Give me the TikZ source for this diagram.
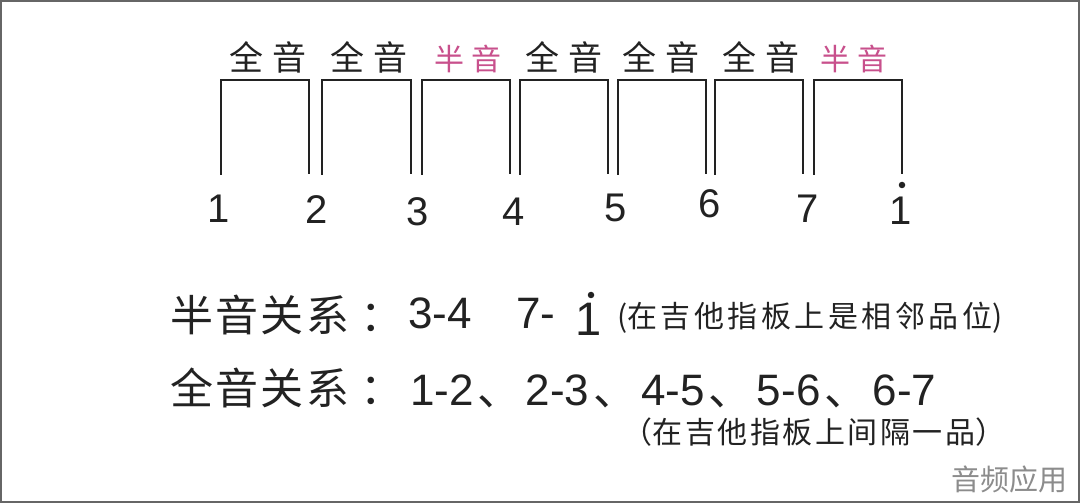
\documentclass[tikz,border=0pt]{standalone}
\usepackage{fontspec}
\setmainfont{Liberation Sans}
\newfontfamily\cjk{Noto Sans CJK SC}
\definecolor{ink}{HTML}{222222}
\definecolor{pinkt}{HTML}{C8508C}
\definecolor{wmgray}{HTML}{8C8C8C}
\newcommand\gapH{\hspace{8.6bp}}
\newcommand\gapP{\hspace{7bp}}
\newcommand\gapB{\hspace{2.3bp}}
\newcommand\gapK{\hspace{11bp}}
\newcommand\gapS{\hspace{3.5bp}}
\newcommand\gapT{\hspace{2.5bp}}
\newcommand\gapC{\hspace{4bp}}
\begin{document}
\begin{tikzpicture}[x=1bp,y=-1bp,
  hdr/.style={font=\cjk\fontsize{34bp}{34bp}\selectfont, text=ink, inner sep=0},
  hdrp/.style={font=\cjk\fontsize{30bp}{30bp}\selectfont, text=pinkt, inner sep=0},
  num/.style={font=\fontsize{40bp}{40bp}\selectfont, text=ink, inner sep=0, anchor=base},
  brk/.style={draw=ink, line width=1.5bp},
  big/.style={font=\cjk\fontsize{43bp}{43bp}\selectfont, text=ink, inner sep=0, anchor=west},
  dg/.style={font=\fontsize{44bp}{44bp}\selectfont, text=ink, inner sep=0, anchor=base west},
  sm/.style={font=\cjk\fontsize{30bp}{30bp}\selectfont, text=ink, inner sep=0},
  dotn/.style={circle, fill=ink, inner sep=0, minimum size=6.5bp},
  wm/.style={font=\cjk\fontsize{29bp}{29bp}\selectfont, text=wmgray, inner sep=0}]
\useasboundingbox (0,0) rectangle (1080,503);
\fill[white] (0,0) rectangle (1080,503);
\draw[black!60, line width=2bp] (1,1) rectangle (1079,502);

% headers
\node[hdr]  (h1) at (268,57) {全\gapH 音};
\node[hdr]  (h2) at (369,57) {全\gapH 音};
\node[hdrp] (h3) at (468,59) {半\gapP 音};
\node[hdr]  (h4) at (564,57) {全\gapH 音};
\node[hdr]  (h5) at (661,57) {全\gapH 音};
\node[hdr]  (h6) at (761,57) {全\gapH 音};
\node[hdrp] (h7) at (854,59) {半\gapP 音};

% brackets
\draw[brk] (221,175) |- (309,80) -- (309,174);
\draw[brk] (322,175) |- (411,80) -- (411,174);
\draw[brk] (422,175) |- (510,80) -- (510,174);
\draw[brk] (520,175) |- (608,80) -- (608,174);
\draw[brk] (618,175) |- (706,80) -- (706,174);
\draw[brk] (715,175) |- (803,80) -- (803,174);
\draw[brk] (814,175) |- (902,80) -- (902,174);

% numbers
\node[num] (n1) at (219,223) {1};
\node[num] (n2) at (317,224) {2};
\node[num] (n3) at (418,226) {3};
\node[num] (n4) at (514,226) {4};
\node[num] (n5) at (616,222) {5};
\node[num] (n6) at (710,218) {6};
\node[num] (n7) at (808,223) {7};
\node[num] (n8) at (901,225) {1};
\node[dotn] (d8) at (902,185) {};

% line 1
\node[big] (l1) at (170,315) {半\gapB 音\gapB 关\gapB 系\gapK ：};
\node[dg] (p34) at (408,329) {3-4};
\node[dg] (p7) at (516,329) {7-};
\node[font=\fontsize{47bp}{47bp}\selectfont, text=ink, inner sep=0, anchor=base] (p1) at (589,336) {1};
\node[dotn] (pd) at (591,295) {};
\node[sm, anchor=west] (c1) at (617,318) {(在\gapS 吉\gapS 他\gapS 指\gapS 板\gapS 上\gapS 是\gapS 相\gapS 邻\gapS 品\gapS 位)};

% line 2
\node[big] (l2) at (170,388) {全\gapB 音\gapB 关\gapB 系\gapK ：};
\node[dg] (p2) at (410,405) {1-2\gapC{\cjk 、}\gapC 2-3\gapC{\cjk 、}\gapC 4-5\gapC{\cjk 、}\gapC 5-6\gapC{\cjk 、}\gapC 6-7};

% line 3
\node[sm] (c2) at (814,432) {（在\gapT 吉\gapT 他\gapT 指\gapT 板\gapT 上\gapT 间\gapT 隔\gapT 一\gapT 品）};

% watermark
\node[wm] (w) at (1009,479) {音频应用};
\end{tikzpicture}
\end{document}
